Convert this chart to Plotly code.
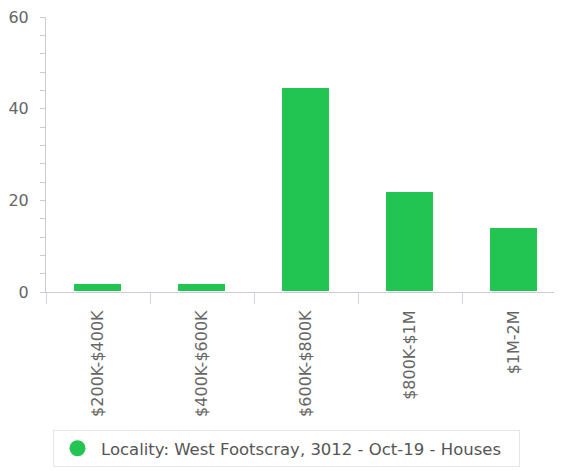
import plotly.graph_objects as go

categories = ["$200K-$400K", "$400K-$600K", "$600K-$800K", "$800K-$1M", "$1M-2M"]
values = [1.7, 1.7, 44.5, 21.8, 13.9]
series_name = "Locality: West Footscray, 3012 - Oct-19 - Houses"
y_ticks = [0, 20, 40, 60]

GREEN = "#23c552"
FONT = "DejaVu Sans"
W, H = 562, 471
OFF = 8  # page body margin

fig = go.Figure()
fig.add_trace(go.Bar(
    x=categories, y=values, width=0.46,
    marker=dict(color=GREEN, line=dict(color="#ffffff", width=1)),
    showlegend=False, name=series_name,
))
# legend entry with circular marker
fig.add_trace(go.Scatter(
    x=[None], y=[None], mode="markers", name=series_name,
    marker=dict(color=GREEN, size=16, symbol="circle"),
    showlegend=True,
))

fig.update_layout(
    width=W, height=H,
    margin=dict(l=46 - OFF, r=W + OFF - 566, t=17 - OFF, b=H + OFF - 292),
    plot_bgcolor="white", paper_bgcolor="white",
    font=dict(family=FONT, color="#666666", size=16),
    bargap=0,
    xaxis=dict(
        type="category", range=[-0.5, 4.5],
        showline=True, linecolor="#cccccc", linewidth=1,
        ticks="outside", tickson="boundaries", ticklen=11, tickcolor="#ccd6eb",
        tickangle=-90, tickfont=dict(size=16, color="#666666"),
        ticklabelstandoff=11,
        showgrid=False, zeroline=False, automargin=False,
    ),
    yaxis=dict(
        range=[0, 60], tickvals=y_ticks,
        showline=True, linecolor="#cccccc", linewidth=1,
        ticks="outside", ticklen=5, tickcolor="#cccccc",
        minor=dict(dtick=4, ticks="outside", ticklen=5, tickcolor="#cccccc", showgrid=False),
        tickfont=dict(size=16, color="#666666"),
        ticklabelstandoff=8, ticklabeloverflow="allow",
        showgrid=False, zeroline=False, automargin=False,
    ),
    legend=dict(
        orientation="h", xref="container", yref="container",
        x=(286.5 - OFF) / W, xanchor="center", y=1 - (430 - OFF) / H, yanchor="top",
        bordercolor="#e6e6e6", borderwidth=1, bgcolor="white",
        itemwidth=37, entrywidth=413,
        font=dict(family=FONT, size=16.5, color="#555555"),
    ),
)

fig.write_html("out.html")
